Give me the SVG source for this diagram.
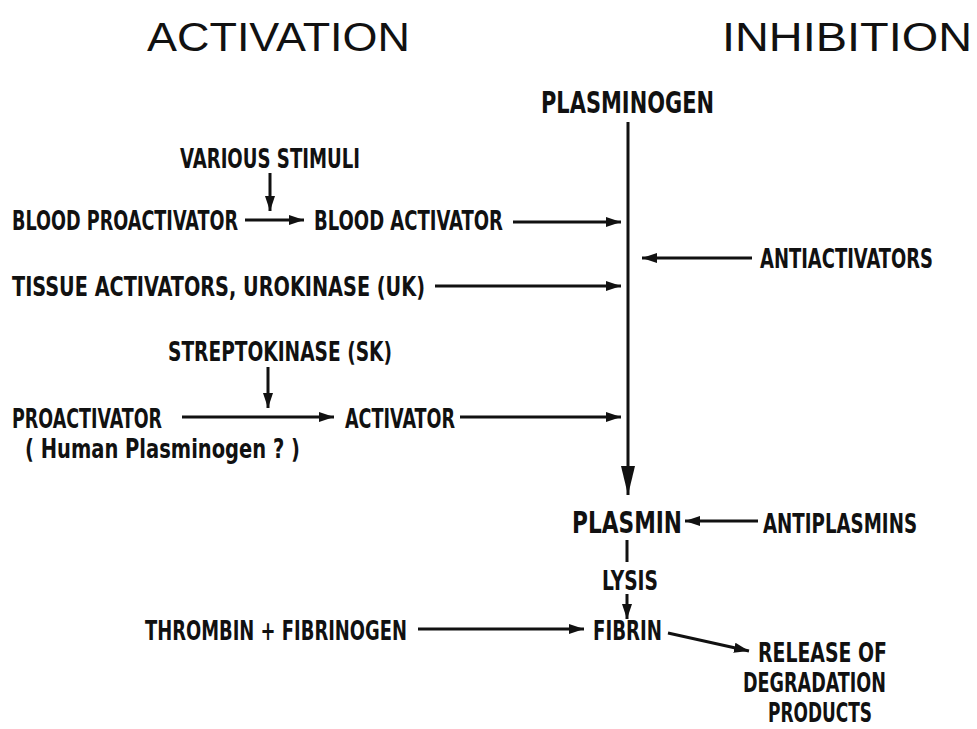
<svg xmlns="http://www.w3.org/2000/svg" width="977" height="729" viewBox="0 0 977 729">
<defs>
<marker id="ah" markerUnits="userSpaceOnUse" markerWidth="16" markerHeight="12" refX="15" refY="6" orient="auto">
<path d="M0,1 L15,6 L0,11 Z" fill="#111"/>
</marker>
<marker id="ahBig" markerUnits="userSpaceOnUse" markerWidth="30" markerHeight="16" refX="29" refY="8" orient="auto">
<path d="M0,1 L29,8 L0,15 Z" fill="#111"/>
</marker>
<style>
.h{font-family:"Liberation Sans",Arial,sans-serif;font-size:41px;fill:#111;font-weight:normal}
.t{font-family:"DejaVu Sans Condensed","DejaVu Sans",sans-serif;font-weight:bold;font-size:26px;fill:#111}
.tb{font-family:"DejaVu Sans Condensed","DejaVu Sans",sans-serif;font-weight:bold;font-size:31px;fill:#111}
.c{stroke:#111;stroke-width:3;fill:none}
</style>
</defs>
<rect width="977" height="729" fill="#fff"/>
<g id="headers">
<text class="h" x="147" y="51" textLength="263" lengthAdjust="spacingAndGlyphs">ACTIVATION</text>
<text class="h" x="722" y="51" textLength="250" lengthAdjust="spacingAndGlyphs">INHIBITION</text>
</g>
<g id="plasminogen"><text class="tb" x="541" y="113" textLength="173" lengthAdjust="spacingAndGlyphs">PLASMINOGEN</text></g>
<g id="various-stimuli"><text class="t" x="180" y="168" textLength="180" lengthAdjust="spacingAndGlyphs">VARIOUS STIMULI</text></g>
<g id="blood-proactivator"><text class="t" x="12" y="230" textLength="226" lengthAdjust="spacingAndGlyphs">BLOOD PROACTIVATOR</text></g>
<g id="blood-activator"><text class="t" x="314" y="230" textLength="189" lengthAdjust="spacingAndGlyphs">BLOOD ACTIVATOR</text></g>
<g id="antiactivators"><text class="t" x="760" y="268" textLength="173" lengthAdjust="spacingAndGlyphs">ANTIACTIVATORS</text></g>
<g id="tissue-activators"><text class="t" x="12" y="296" textLength="413" lengthAdjust="spacingAndGlyphs">TISSUE ACTIVATORS, UROKINASE (UK)</text></g>
<g id="streptokinase"><text class="t" x="168" y="361" textLength="224" lengthAdjust="spacingAndGlyphs">STREPTOKINASE (SK)</text></g>
<g id="proactivator">
<text class="t" x="12" y="428" textLength="150" lengthAdjust="spacingAndGlyphs">PROACTIVATOR</text>
<text class="t" x="25" y="458" textLength="275" lengthAdjust="spacingAndGlyphs">( Human Plasminogen ? )</text>
</g>
<g id="activator"><text class="t" x="345" y="428" textLength="110" lengthAdjust="spacingAndGlyphs">ACTIVATOR</text></g>
<g id="plasmin"><text class="tb" x="572" y="533" textLength="110" lengthAdjust="spacingAndGlyphs">PLASMIN</text></g>
<g id="antiplasmins"><text class="t" x="763" y="533" textLength="154" lengthAdjust="spacingAndGlyphs">ANTIPLASMINS</text></g>
<g id="lysis"><text class="t" x="602" y="590" textLength="56" lengthAdjust="spacingAndGlyphs">LYSIS</text></g>
<g id="thrombin"><text class="t" x="145" y="640" textLength="262" lengthAdjust="spacingAndGlyphs">THROMBIN + FIBRINOGEN</text></g>
<g id="fibrin"><text class="t" x="593" y="640" textLength="69" lengthAdjust="spacingAndGlyphs">FIBRIN</text></g>
<g id="release">
<text class="t" x="758" y="662" textLength="129" lengthAdjust="spacingAndGlyphs">RELEASE OF</text>
<text class="t" x="743" y="692" textLength="143" lengthAdjust="spacingAndGlyphs">DEGRADATION</text>
<text class="t" x="768" y="722" textLength="104" lengthAdjust="spacingAndGlyphs">PRODUCTS</text>
</g>
<g id="connectors">
<line class="c" x1="628" y1="122" x2="628" y2="495" marker-end="url(#ahBig)"/>
<line class="c" x1="270" y1="173" x2="270" y2="211" marker-end="url(#ah)"/>
<line class="c" x1="245" y1="220" x2="304" y2="220" marker-end="url(#ah)"/>
<line class="c" x1="513" y1="222" x2="621" y2="222" marker-end="url(#ah)"/>
<line class="c" x1="752" y1="258" x2="642" y2="258" marker-end="url(#ah)"/>
<line class="c" x1="435" y1="286" x2="621" y2="286" marker-end="url(#ah)"/>
<line class="c" x1="268" y1="367" x2="268" y2="408" marker-end="url(#ah)"/>
<line class="c" x1="182" y1="417" x2="334" y2="417" marker-end="url(#ah)"/>
<line class="c" x1="460" y1="417" x2="621" y2="417" marker-end="url(#ah)"/>
<line class="c" x1="758" y1="521" x2="685" y2="521" marker-end="url(#ah)"/>
<line class="c" x1="627" y1="540" x2="627" y2="562"/>
<line class="c" x1="627" y1="594" x2="627" y2="619" marker-end="url(#ah)"/>
<line class="c" x1="418" y1="629" x2="584" y2="629" marker-end="url(#ah)"/>
<line class="c" x1="668" y1="633" x2="749" y2="651" marker-end="url(#ah)"/>
</g>
</svg>
